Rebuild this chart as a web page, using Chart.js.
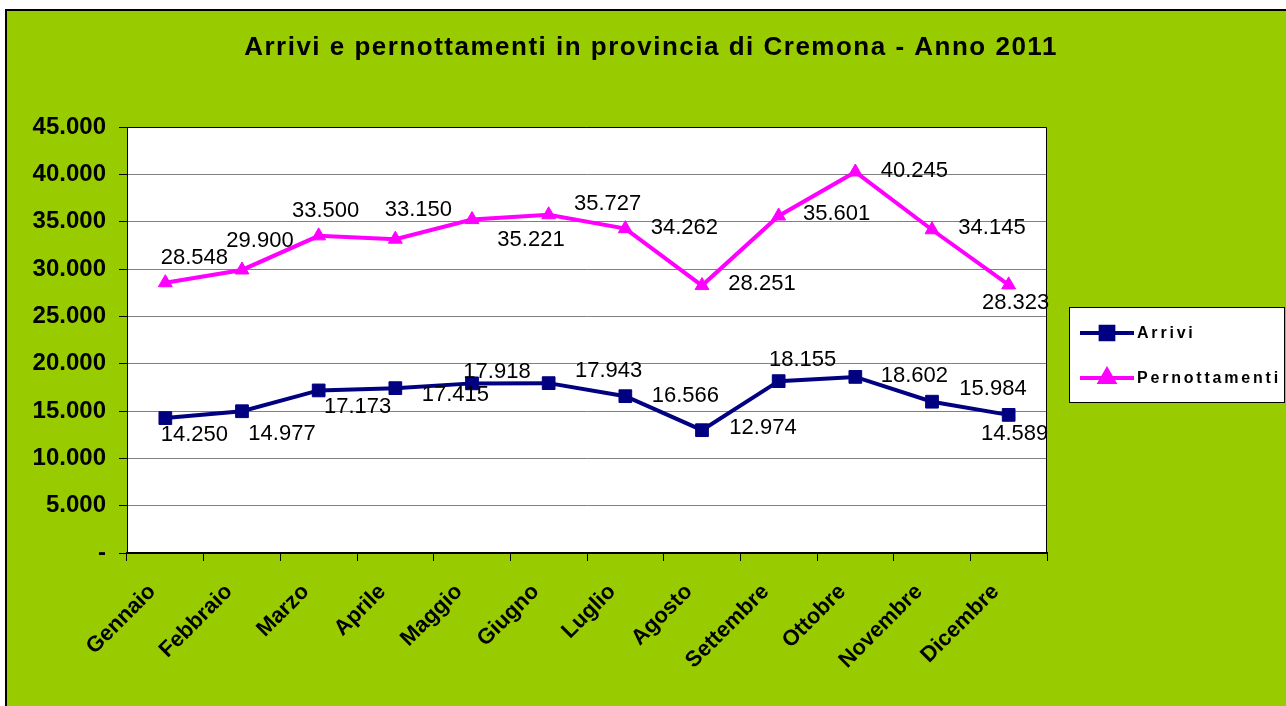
<!DOCTYPE html>
<html>
<head>
<meta charset="utf-8">
<script src="https://cdn.jsdelivr.net/npm/chart.js@4/dist/chart.umd.min.js"></script>
<style>
    html, body { margin: 0; padding: 0; background: #fff; overflow: hidden; width: 1286px; height: 706px; }
    #frame { position: absolute; left: 5px; top: 9px; width: 1300px; height: 720px; background: #99cc00; border: 2px solid #000; }
    #wrap { position: absolute; left: 0; top: 0; width: 1286px; height: 706px; }
</style>
</head>
<body>
<div id="frame"></div>
<div id="wrap"><canvas id="graphArriviPernottamenti" width="1286" height="706"></canvas></div>
<script>
const months = ['Gennaio', 'Febbraio', 'Marzo', 'Aprile', 'Maggio', 'Giugno', 'Luglio', 'Agosto', 'Settembre', 'Ottobre', 'Novembre', 'Dicembre'];
const arrivi = [14250, 14977, 17173, 17415, 17918, 17943, 16566, 12974, 18155, 18602, 15984, 14589];
const pernottamenti = [28548, 29900, 33500, 33150, 35221, 35727, 34262, 28251, 35601, 40245, 34145, 28323];
const yTicks = [0, 5000, 10000, 15000, 20000, 25000, 30000, 35000, 40000, 45000];

// where Excel dropped each value label, relative to its point
const arriviLabelShift = [[29, 17], [40, 23], [39, 17], [60, 7], [25, -11], [60, -12], [60, 0], [61, -2], [24, -21], [59, -1], [61, -13], [6, 19]];
const pernLabelShift = [[29, -25], [18, -29], [7, -25], [23, -29], [59, 20], [59, -11], [59, -1], [60, -2], [58, -2], [59, -1], [60, -2], [7, 18]];

const fontFamily = "'Liberation Sans', Arial, sans-serif";

function fmt(v) {
    return String(Math.round(v)).replace(/\B(?=(\d{3})+(?!\d))/g, '.');
}

const chartDecor = {
    id: 'chartDecor',
    beforeDraw: function(chart) {
        const { ctx, chartArea } = chart;
        ctx.save();
        ctx.fillStyle = '#fff';
        ctx.fillRect(chartArea.left, chartArea.top, chartArea.right - chartArea.left, chartArea.bottom - chartArea.top);
        ctx.restore();
    },
    afterDatasetsDraw: function(chart) {
        const { ctx } = chart;
        const shifts = [arriviLabelShift, pernLabelShift];
        ctx.save();
        ctx.font = '22px ' + fontFamily;
        ctx.fillStyle = '#000';
        ctx.textAlign = 'center';
        ctx.textBaseline = 'middle';
        chart.data.datasets.forEach((ds, i) => {
            const meta = chart.getDatasetMeta(i);
            meta.data.forEach((pt, j) => {
                ctx.fillText(fmt(ds.data[j]), pt.x + shifts[i][j][0], pt.y + shifts[i][j][1]);
            });
        });
        ctx.restore();
    },
    afterDraw: function(chart) {
        const { ctx, chartArea } = chart;
        ctx.save();
        // plot frame
        ctx.strokeStyle = '#000';
        ctx.lineWidth = 1;
        ctx.beginPath();
        ctx.moveTo(chartArea.left, chartArea.top + 0.5);
        ctx.lineTo(chartArea.right - 0.5, chartArea.top + 0.5);
        ctx.lineTo(chartArea.right - 0.5, chartArea.bottom);
        ctx.stroke();

        // title
        ctx.font = 'bold 26px ' + fontFamily;
        ctx.letterSpacing = '1.5px';
        ctx.fillStyle = '#000';
        ctx.textAlign = 'center';
        ctx.textBaseline = 'middle';
        ctx.fillText('Arrivi e pernottamenti in provincia di Cremona - Anno 2011', 651, 48);

        // legend
        ctx.fillStyle = '#fff';
        ctx.fillRect(1069, 307, 216, 96);
        ctx.strokeRect(1069.5, 307.5, 215, 95);
        ctx.font = 'bold 16px ' + fontFamily;
        ctx.letterSpacing = '2.8px';
        ctx.textAlign = 'left';
        chart.data.datasets.forEach((ds, i) => {
            const y = 333 + i * 45;
            ctx.strokeStyle = ds.borderColor;
            ctx.lineWidth = 4;
            ctx.beginPath();
            ctx.moveTo(1080, y);
            ctx.lineTo(1134, y);
            ctx.stroke();
            ctx.fillStyle = ds.backgroundColor;
            Chart.helpers.drawPoint(ctx, { pointStyle: ds.pointStyle, radius: ds.pointRadius, rotation: 0, borderWidth: 1 }, 1107, y);
            ctx.fillStyle = '#000';
            ctx.fillText(ds.label, 1137, y + 1);
        });
        ctx.restore();
    }
};

const canvas = document.getElementById('graphArriviPernottamenti');

const arriviGraph = new Chart(canvas, {
    type: 'line',
    data: {
        labels: months,
        datasets: [
            {
                label: 'Arrivi',
                data: arrivi,
                borderColor: '#000080',
                backgroundColor: '#000080',
                borderWidth: 4,
                pointStyle: 'rect',
                pointRadius: 9,
                pointBorderWidth: 1,
                tension: 0
            },
            {
                label: 'Pernottamenti',
                data: pernottamenti,
                borderColor: '#ff00ff',
                backgroundColor: '#ff00ff',
                borderWidth: 4,
                pointStyle: 'triangle',
                pointRadius: 8,
                pointBorderWidth: 1,
                tension: 0
            }
        ]
    },
    options: {
        responsive: false,
        animation: false,
        devicePixelRatio: 1,
        layout: {
            padding: { top: 127, right: 239, left: 0, bottom: 0 }
        },
        plugins: {
            legend: { display: false },
            title: { display: false },
            tooltip: { enabled: false }
        },
        scales: {
            y: {
                min: 0,
                max: 45000,
                afterFit: function(scale) { scale.width = 127; },
                afterBuildTicks: function(scale) { scale.ticks = yTicks.map(v => ({ value: v })); },
                grid: {
                    color: '#808080',
                    tickColor: '#000',
                    tickLength: 8
                },
                border: { color: '#000', width: 1 },
                ticks: {
                    color: '#000',
                    padding: 13,
                    font: { family: fontFamily, weight: 'bold', size: 24 },
                    callback: v => v === 0 ? '-' : fmt(v)
                }
            },
            x: {
                offset: true,
                afterFit: function(scale) { scale.height = 153; },
                grid: {
                    offset: true,
                    drawOnChartArea: false,
                    tickColor: '#000',
                    tickLength: 8
                },
                border: { color: '#000', width: 2 },
                ticks: {
                    color: '#000',
                    minRotation: 45,
                    maxRotation: 45,
                    padding: 18,
                    labelOffset: -13,
                    font: { family: fontFamily, weight: 'bold', size: 22 }
                }
            }
        }
    },
    plugins: [chartDecor]
});
</script>
</body>
</html>
